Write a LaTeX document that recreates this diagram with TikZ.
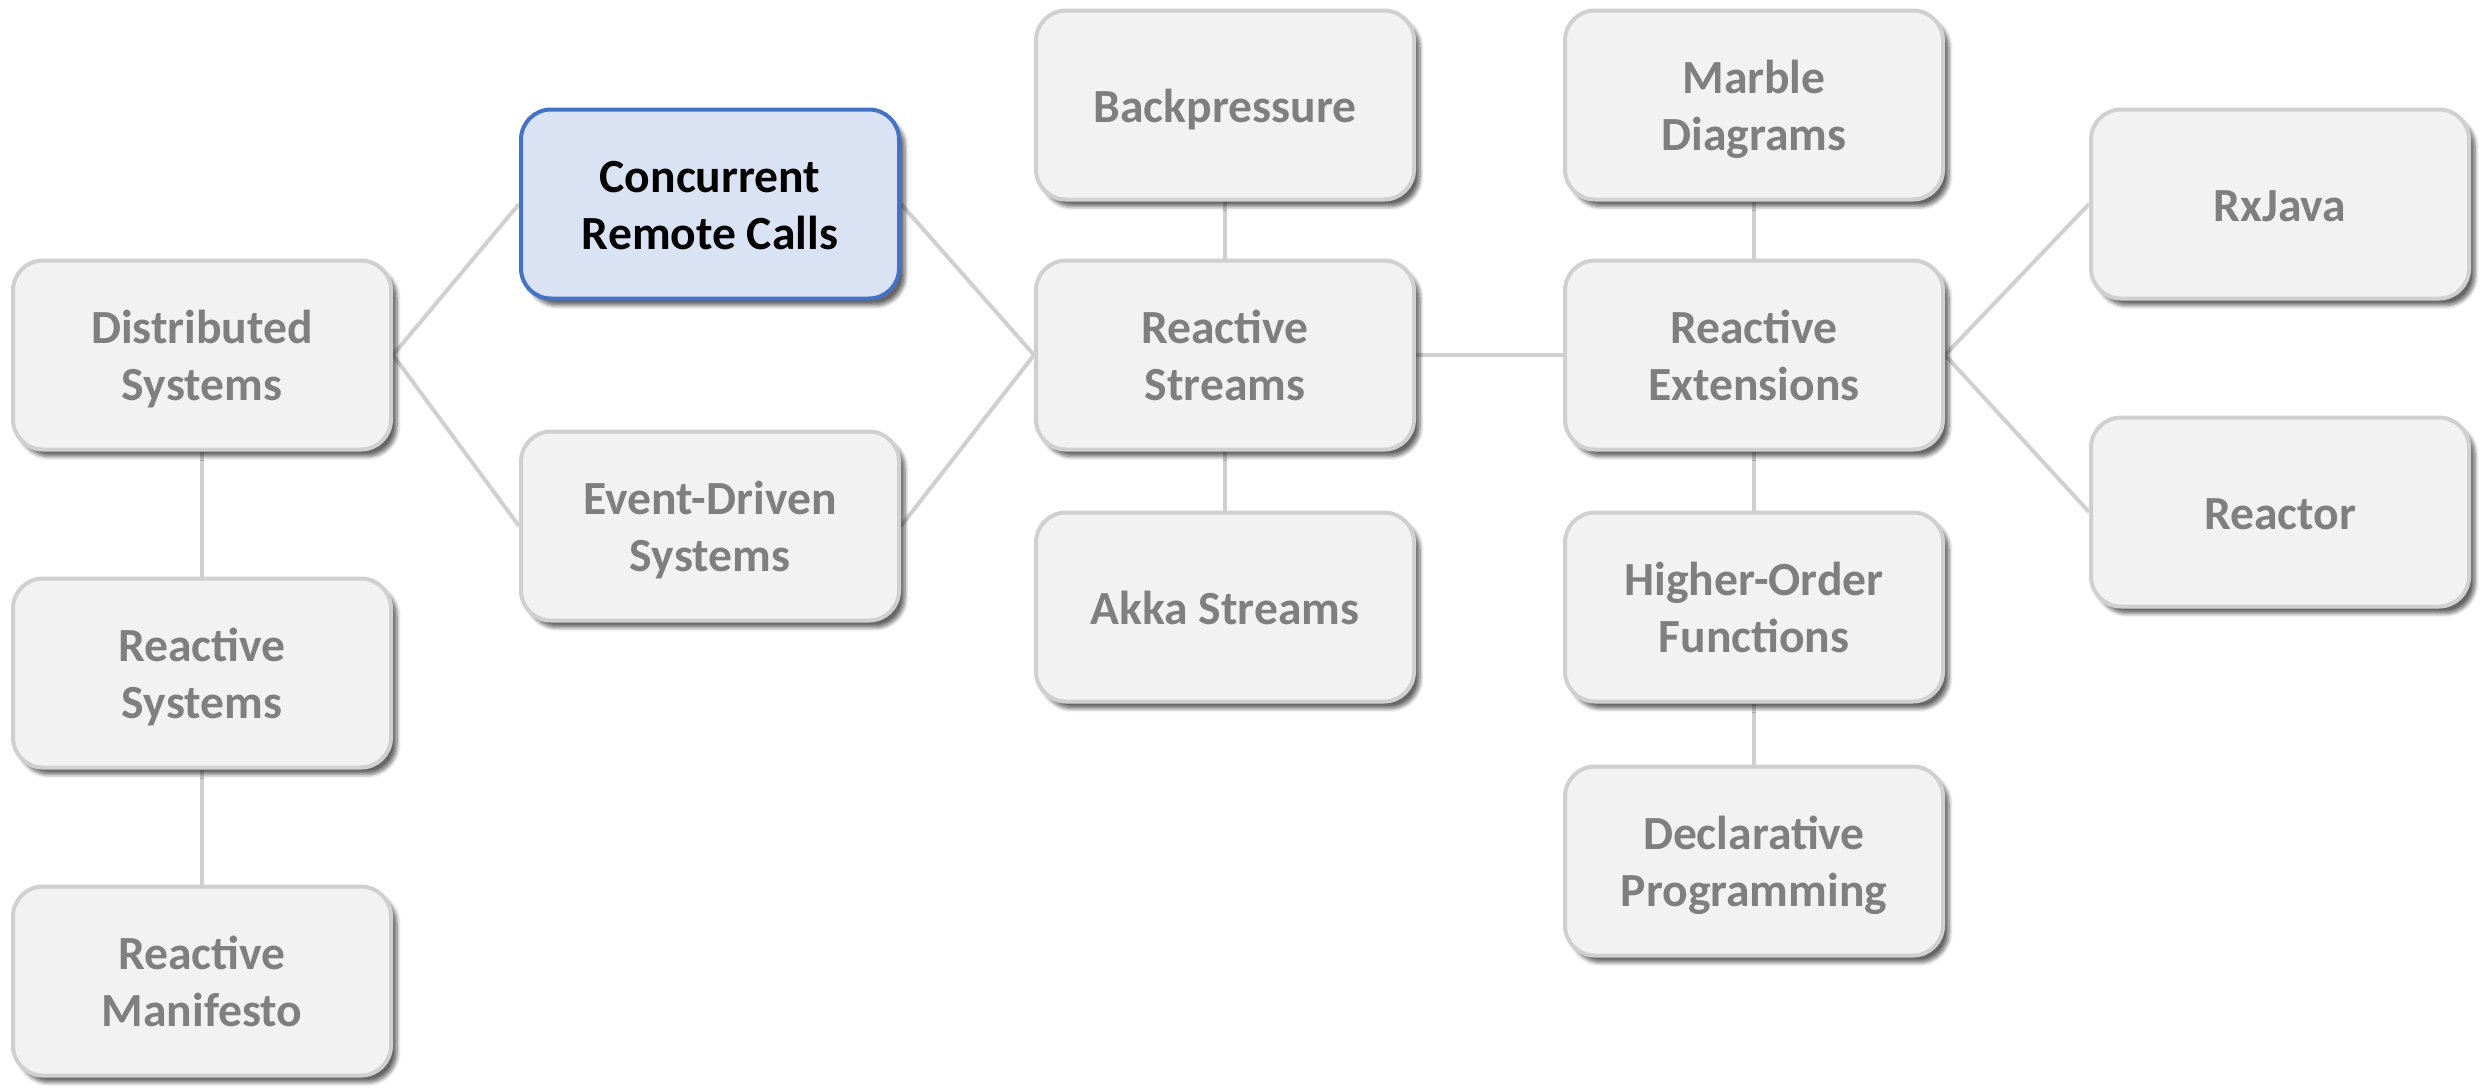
\documentclass[tikz,border=0pt]{standalone}
\usepackage{fontspec}
\setmainfont{Carlito}
\usetikzlibrary{shadows.blur,backgrounds}
\definecolor{boxfill}{HTML}{F2F2F2}
\definecolor{boxline}{HTML}{D0D0D0}
\definecolor{boxtext}{HTML}{7F7F7F}
\definecolor{hifill}{HTML}{DAE3F3}
\definecolor{hiline}{HTML}{4472C4}
\definecolor{linkcol}{HTML}{D0D0D0}
\tikzset{
  topic/.style={draw=boxline, fill=boxfill, line width=2pt, rounded corners=15pt,
    minimum width=189pt, minimum height=94.5pt, inner sep=0pt, align=center,
    text=boxtext, font=\fontsize{23.8}{28.5}\selectfont\bfseries,
    text height=17pt, text depth=0pt,
    blur shadow={shadow xshift=3pt, shadow yshift=-3.5pt, shadow blur steps=6,
      shadow opacity=60, shadow blur extra rounding=2pt}},
  twoline/.style={text height=45.5pt},
  focus/.style={topic, draw=hiline, fill=hifill, text=black},
  link/.style={draw=linkcol, line width=2pt}
}
\begin{document}
\begin{tikzpicture}[x=0.5pt, y=-0.5pt]
\useasboundingbox (0,0) rectangle (2483,1089);
\node[topic,twoline] (ds)   at (202,355)  {Distributed\\Systems};
\node[focus,twoline] (crc)  at (710,204)  {Concurrent\\Remote Calls};
\node[topic,twoline] (eds)  at (710,526)  {Event-Driven\\Systems};
\node[topic,twoline] (rsys) at (202,673)  {Reactive\\Systems};
\node[topic,twoline] (rman) at (202,981)  {Reactive\\Manifesto};
\node[topic]         (bp)   at (1225,105) {Backpressure};
\node[topic,twoline] (rst)  at (1225,355) {Reactive\\Streams};
\node[topic]         (akka) at (1225,607) {Akka Streams};
\node[topic,twoline] (md)   at (1754,105) {Marble\\Diagrams};
\node[topic,twoline] (rx)   at (1754,355) {Reactive\\Extensions};
\node[topic,twoline] (hof)  at (1754,607) {Higher-Order\\Functions};
\node[topic,twoline] (dp)   at (1754,861) {Declarative\\Programming};
\node[topic]         (rxj)  at (2280,204) {RxJava};
\node[topic]         (rct)  at (2280,512) {Reactor};
\begin{scope}[on background layer]
  \draw[link] (ds.east) -- (crc.west);
  \draw[link] (ds.east) -- (eds.west);
  \draw[link] (crc.east) -- (rst.west);
  \draw[link] (eds.east) -- (rst.west);
  \draw[link] (ds.south) -- (rsys.north);
  \draw[link] (rsys.south) -- (rman.north);
  \draw[link] (bp.south) -- (rst.north);
  \draw[link] (rst.south) -- (akka.north);
  \draw[link] (rst.east) -- (rx.west);
  \draw[link] (md.south) -- (rx.north);
  \draw[link] (rx.south) -- (hof.north);
  \draw[link] (hof.south) -- (dp.north);
  \draw[link] (rx.east) -- (rxj.west);
  \draw[link] (rx.east) -- (rct.west);
\end{scope}
\end{tikzpicture}
\end{document}
